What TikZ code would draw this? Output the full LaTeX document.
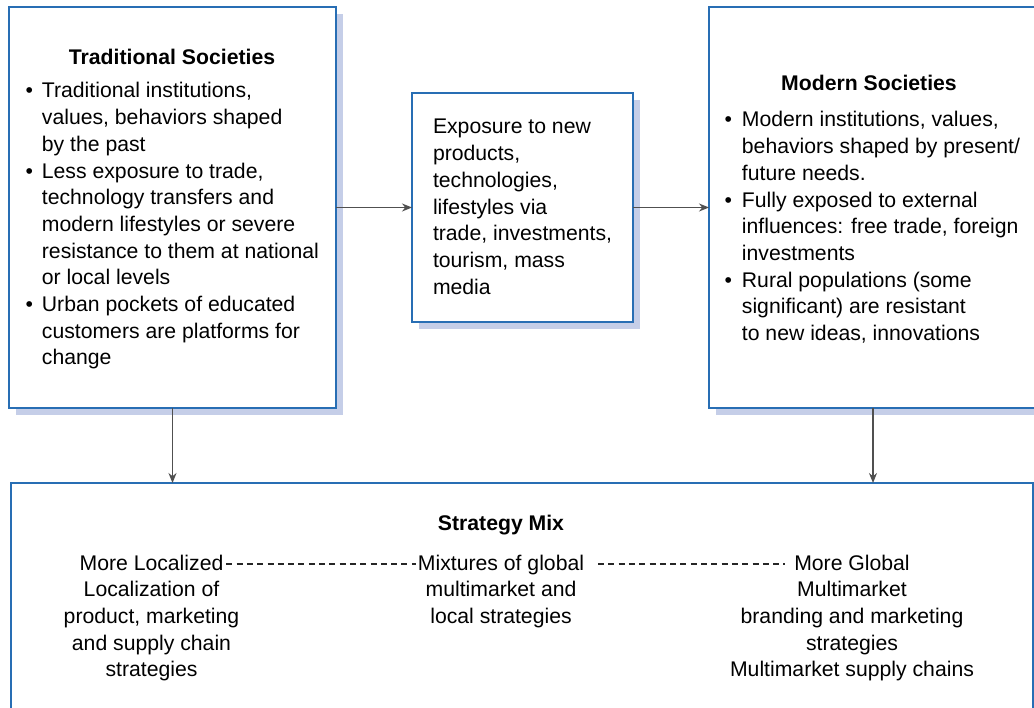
\documentclass[tikz,border=0pt]{standalone}
\usepackage{fontspec}
\setmainfont{Liberation Sans}
\usetikzlibrary{arrows.meta,shadows}
\definecolor{boxblue}{RGB}{40,110,180}
\definecolor{shadowblue}{RGB}{197,206,232}
\definecolor{arrowgray}{RGB}{80,80,80}
\tikzset{
  panel/.style={draw=boxblue, line width=1.4pt, fill=white, anchor=north west, inner sep=0pt, outer sep=0pt},
  shadowed/.style={copy shadow={shadow xshift=7pt, shadow yshift=-7pt, draw=none, fill=shadowblue}},
  txt/.style={inner sep=0pt, outer sep=0pt, font=\fontsize{21.2}{26.7}\selectfont},
  ttl/.style={txt, font=\fontsize{21.2}{26.7}\selectfont\bfseries, anchor=base},
  conn/.style={draw=arrowgray, line width=1.3pt, -{Stealth[length=10pt,width=8pt]}},
  dashline/.style={draw=black!85, line width=1.2pt, dash pattern=on 6pt off 4.3pt}
}
\begin{document}
\begin{tikzpicture}[x=1pt,y=-1pt]
\clip (0,0) rectangle (1034,708);
\fill[white] (0,0) rectangle (1034,708);

% panels
\node[panel, shadowed, minimum width=327pt, minimum height=401pt] (trad) at (9,7) {};
\node[panel, shadowed, minimum width=221pt, minimum height=229pt] (expo) at (412,93) {};
\node[panel, shadowed, minimum width=328pt, minimum height=401pt] (mod) at (709,7) {};
\node[panel, minimum width=1022pt, minimum height=260pt] (mix) at (11,483) {};

% traditional societies
\node[ttl] (tradtitle) at (172,65) {Traditional Societies};
\node[txt, anchor=base west] (tradlist) at (25.5,98) {\begin{tabular}[t]{@{}l@{\hspace{9pt}}l@{}}
\textbullet & Traditional institutions,\\
 & values, behaviors shaped\\
 & by the past\\
\textbullet & Less exposure to trade,\\
 & technology transfers and\\
 & modern lifestyles or severe\\
 & resistance to them at national\\
 & or local levels\\
\textbullet & Urban pockets of educated\\
 & customers are platforms for\\
 & change
\end{tabular}};

% exposure
\node[txt, anchor=base west] (expotext) at (433,134) {\begin{tabular}[t]{@{}l@{}}
Exposure to new\\
products,\\
technologies,\\
lifestyles via\\
trade, investments,\\
tourism, mass\\
media
\end{tabular}};

% modern societies
\node[ttl] (modtitle) at (869,91) {Modern Societies};
\node[txt, anchor=base west] (modlist) at (724.5,127) {\begin{tabular}[t]{@{}l@{\hspace{10pt}}l@{}}
\textbullet & Modern institutions, values,\\
 & behaviors shaped by present/\\
 & future needs.\\
\textbullet & Fully exposed to external\\
 & influences: free trade, foreign\\
 & investments\\
\textbullet & Rural populations (some\\
 & significant) are resistant\\
 & to new ideas, innovations
\end{tabular}};

% strategy mix
\node[ttl] (mixtitle) at (501,530) {Strategy Mix};
\node[txt, anchor=base] (loclab) at (151.5,570) {More Localized};
\node[txt, anchor=base] (midlab) at (501,570) {Mixtures of global};
\node[txt, anchor=base] (globlab) at (852,570) {More Global};
\node[txt, anchor=base] (loctext) at (151.5,596.7) {\begin{tabular}[t]{@{}c@{}}
Localization of\\
product, marketing\\
and supply chain\\
strategies
\end{tabular}};
\node[txt, anchor=base] (midtext) at (501,596.7) {\begin{tabular}[t]{@{}c@{}}
multimarket and\\
local strategies
\end{tabular}};
\node[txt, anchor=base] (globtext) at (852,596.7) {\begin{tabular}[t]{@{}c@{}}
Multimarket\\
branding and marketing\\
strategies\\
Multimarket supply chains
\end{tabular}};

\draw[dashline] ([xshift=3pt,yshift=6pt]loclab.base east) -- ([xshift=-2pt,yshift=6pt]midlab.base west);
\draw[dashline] ([xshift=14pt,yshift=6pt]midlab.base east) -- ([xshift=-9pt,yshift=6pt]globlab.base west);

% connectors
\draw[conn] (trad) -- (expo);
\draw[conn] (expo) -- (mod);
\draw[conn] (trad.south) -- (trad.south |- mix.north);
\draw[conn] (mod.south) -- (mod.south |- mix.north);
\end{tikzpicture}
\end{document}
